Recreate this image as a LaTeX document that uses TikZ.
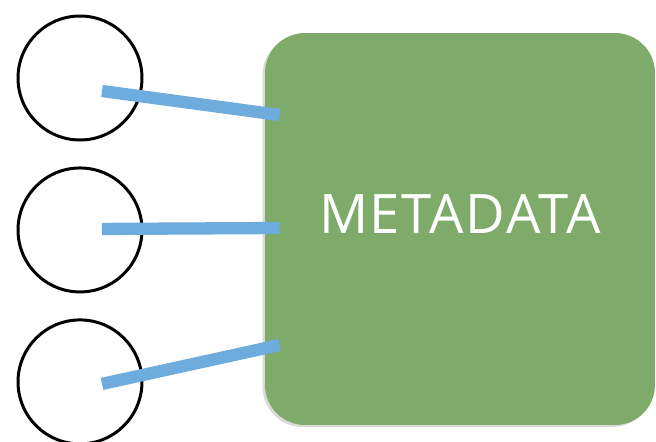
\documentclass[tikz,border=0pt]{standalone}
\usepackage{fontspec}
\setsansfont{Open Sans}[LetterSpace=3]
\usetikzlibrary{positioning,shadows,calc}
\definecolor{boxgreen}{RGB}{126,170,106}
\definecolor{linkblue}{RGB}{110,172,222}

\begin{document}
\begin{tikzpicture}[x=0.02cm,y=-0.02cm,node distance=0.5cm,
   every node/.style={font=\sffamily},
   item/.style={circle,draw=black,line width=1.7pt,minimum size=2.48cm,inner sep=0pt},
   databox/.style={fill=boxgreen,rounded corners=0.8cm,minimum width=7.8cm,
     minimum height=7.84cm,text=white,text depth=0.6cm,
     font=\sffamily\fontsize{31}{33}\selectfont,
     drop shadow={shadow xshift=-0.05cm,shadow yshift=-0.04cm,opacity=0.3}},
   link/.style={draw=linkblue,line width=7pt}]
  \useasboundingbox (0,0) rectangle (656,442);
  \node[item] (c1) at (80,78) {};
  \node[item] (c2) [below=of c1] {};
  \node[item] (c3) [below=of c2] {};
  \node[databox] (meta) at (460,229) {METADATA};
  % where the links start and end
  \coordinate (s1) at ($(c1)+(22,13)$);
  \coordinate (s2) at ($(c2)+(22,-1)$);
  \coordinate (s3) at ($(c3)+(22,2)$);
  \coordinate (e1) at ($(meta.west)+(15,-114)$);
  \coordinate (e2) at ($(meta.west)+(15,-1)$);
  \coordinate (e3) at ($(meta.west)+(15,116)$);
  \draw[link] (s1) -- (e1);
  \draw[link] (s2) -- (e2);
  \draw[link] (s3) -- (e3);
\end{tikzpicture}
\end{document}
